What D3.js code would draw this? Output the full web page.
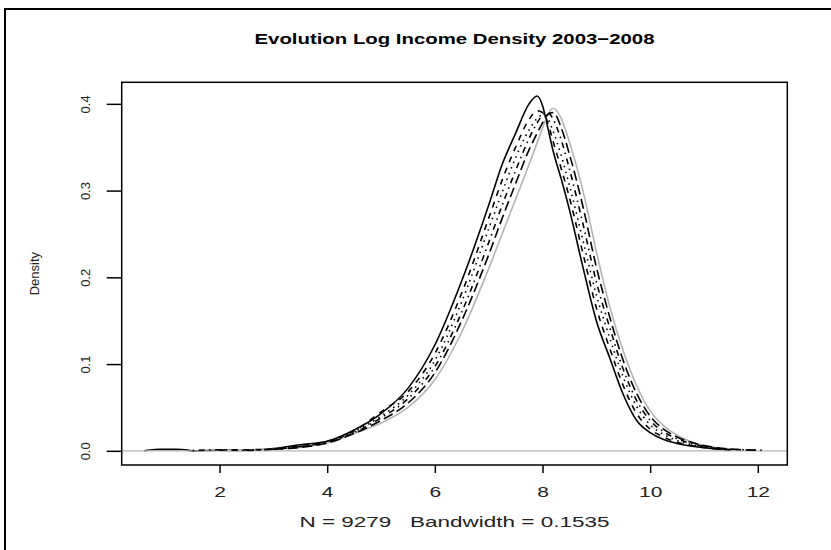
<!DOCTYPE html>
<html>
<head>
<meta charset="utf-8">
<script src="https://cdn.jsdelivr.net/npm/d3@7"></script>
<style>
  body { margin: 0; background: #fff; }
  text { font-family: "Liberation Sans", Arial, sans-serif; }
</style>
</head>
<body>
<script>
var width = 831,
    height = 550;

// log income grid shared by all years (null = outside that year's density range)
var logIncome = [0.6, 0.8, 1.0, 1.3, 1.5, 2.0, 2.5, 3.0, 3.5, 4.0, 4.5, 5.0, 5.5, 6.0, 6.5, 7.0, 7.25, 7.5, 7.75, 7.9, 8.0, 8.1, 8.2, 8.35, 8.5, 8.75, 9.0, 9.25, 9.5, 9.75, 10.0, 10.25, 10.5, 11.0, 11.5, 12.0, 12.1];

var years = ["2003", "2004", "2005", "2006", "2007", "2008"];

var dens2003 = [0, 0.0016, 0.0017, 0.0016, 0, 0.0006, 0.0004, 0.0026, 0.007, 0.011, 0.024, 0.043, 0.072, 0.122, 0.196, 0.283, 0.330, 0.366, 0.400, 0.409, 0.398, 0.372, 0.345, 0.313, 0.278, 0.212, 0.150, 0.107, 0.065, 0.035, 0.021, 0.013, 0.0085, 0.0035, 0.0008, null, null];
var dens2004 = [null, null, null, null, null, 0.0008, 0.0012, 0.002, 0.006, 0.011, 0.023, 0.045, 0.068, 0.112, 0.182, 0.268, 0.312, 0.350, 0.382, 0.392, 0.390, 0.378, 0.356, 0.325, 0.292, 0.228, 0.165, 0.118, 0.075, 0.043, 0.025, 0.016, 0.010, 0.004, 0.0012, null, null];
var dens2005 = [null, null, null, null, null, null, 0.0008, 0.002, 0.005, 0.010, 0.022, 0.040, 0.064, 0.104, 0.172, 0.256, 0.298, 0.338, 0.370, 0.383, 0.387, 0.383, 0.368, 0.340, 0.306, 0.243, 0.180, 0.130, 0.085, 0.051, 0.030, 0.019, 0.012, 0.005, 0.0018, 0.0009, 0.0006];
var dens2006 = [null, null, null, null, 0.0004, 0.0012, 0.0006, 0.002, 0.005, 0.010, 0.021, 0.038, 0.060, 0.097, 0.160, 0.240, 0.283, 0.323, 0.360, 0.378, 0.387, 0.390, 0.382, 0.358, 0.325, 0.262, 0.195, 0.142, 0.094, 0.058, 0.035, 0.022, 0.014, 0.005, 0.0015, null, null];
var dens2007 = [null, null, null, null, null, null, null, 0.002, 0.004, 0.009, 0.020, 0.035, 0.055, 0.090, 0.150, 0.226, 0.268, 0.308, 0.347, 0.366, 0.378, 0.388, 0.390, 0.372, 0.342, 0.282, 0.212, 0.154, 0.104, 0.066, 0.040, 0.025, 0.016, 0.006, 0.002, 0.0008, null];
var dens2008 = [null, null, null, null, null, 0.0003, 0.0008, 0.002, 0.004, 0.009, 0.020, 0.032, 0.050, 0.082, 0.137, 0.210, 0.250, 0.290, 0.330, 0.355, 0.372, 0.388, 0.395, 0.383, 0.356, 0.300, 0.230, 0.166, 0.115, 0.075, 0.046, 0.029, 0.018, 0.006, 0.002, null, null];

var xTicks = [2, 4, 6, 8, 10, 12];
var yTicks = [0.0, 0.1, 0.2, 0.3, 0.4];

var series = [dens2003, dens2004, dens2005, dens2006, dens2007, dens2008];
var dashes = [null, "6,6", "1.5,4.5", "1.5,4.5,6,4.5", "10,4.5", null];
var colors = ["#000", "#000", "#000", "#000", "#000", "#b4b4b4"];

var box = {left: 121.7, right: 787.3, top: 82.3, bottom: 465};

var svg = d3.select("body")
    .append("svg")
    .attr("width", width)
    .attr("height", height);

// outer frame
svg.append("rect")
    .attr("x", 5).attr("y", 9)
    .attr("width", 840).attr("height", 560)
    .attr("fill", "none")
    .attr("stroke", "#000")
    .attr("stroke-width", 2);

// R style range: data range padded 4%
var xMin = 0.64, xMax = 12.09;
var xPad = 0.04*(xMax - xMin);
var yMax = 0.4085;

var x = d3.scaleLinear()
    .domain([xMin - xPad, xMax + xPad])
    .range([box.left, box.right]);

var y = d3.scaleLinear()
    .domain([-0.04*yMax, 1.04*yMax])
    .range([box.bottom, box.top]);

var line = d3.line()
    .defined(function(d) { return d != null; })
    .x(function(d, i) { return x(logIncome[i]); })
    .y(function(d) { return y(d); })
    .curve(d3.curveMonotoneX);

function drawYear(k) {
    svg.append("path")
        .attr("d", line(series[k]))
        .attr("fill", "none")
        .attr("stroke", colors[k])
        .attr("stroke-width", 1.6)
        .attr("stroke-dasharray", dashes[k]);
}

// first year, then the gray zero line (as plot.density does), then the rest
drawYear(0);

svg.append("line")
    .attr("x1", box.left).attr("x2", box.right)
    .attr("y1", y(0)).attr("y2", y(0))
    .attr("stroke", "#b4b4b4")
    .attr("stroke-width", 1.2);

[5, 1, 2, 3, 4].forEach(drawYear);

// plot box
svg.append("rect")
    .attr("x", box.left).attr("y", box.top)
    .attr("width", box.right - box.left)
    .attr("height", box.bottom - box.top)
    .attr("fill", "none")
    .attr("stroke", "#000")
    .attr("stroke-width", 1.5);

// x axis
var xAxis = d3.axisBottom(x)
    .tickValues(xTicks)
    .tickSize(8)
    .tickPadding(13)
    .tickFormat(d3.format("d"));

var gx = svg.append("g")
    .attr("transform", "translate(0," + box.bottom + ")")
    .call(xAxis);
gx.select(".domain").remove();
gx.selectAll(".tick line").attr("stroke-width", 1.5);
gx.selectAll("text")
    .attr("transform", "scale(1.4,1)")
    .style("font-size", "15px")
    .attr("fill", "#222");

// y axis, labels turned like R's default
var yAxis = d3.axisLeft(y)
    .tickValues(yTicks)
    .tickSize(15)
    .tickFormat(d3.format(".1f"));

var gy = svg.append("g")
    .attr("transform", "translate(" + box.left + ",0)")
    .call(yAxis);
gy.select(".domain").remove();
gy.selectAll(".tick line").attr("stroke-width", 1.5);
gy.selectAll(".tick text")
    .attr("x", null)
    .attr("transform", "translate(-36,0) rotate(-90)")
    .attr("text-anchor", "middle")
    .attr("dy", "0.35em")
    .style("font-size", "13px")
    .attr("fill", "#222");

// title and axis labels
svg.append("text")
    .attr("x", (box.left + box.right)/2)
    .attr("y", 44)
    .attr("text-anchor", "middle")
    .attr("textLength", 400)
    .attr("lengthAdjust", "spacingAndGlyphs")
    .style("font-size", "15px")
    .style("font-weight", "bold")
    .text("Evolution Log Income Density 2003\u22122008");

svg.append("text")
    .attr("x", (box.left + box.right)/2)
    .attr("y", 527)
    .attr("text-anchor", "middle")
    .attr("textLength", 310)
    .attr("lengthAdjust", "spacingAndGlyphs")
    .attr("xml:space", "preserve")
    .style("white-space", "pre")
    .style("font-size", "15px")
    .attr("fill", "#222")
    .text("N = 9279   Bandwidth = 0.1535");

svg.append("text")
    .attr("transform", "translate(39," + (box.top + box.bottom)/2 + ") rotate(-90)")
    .attr("text-anchor", "middle")
    .style("font-size", "13px")
    .attr("fill", "#222")
    .text("Density");
</script>
</body>
</html>
